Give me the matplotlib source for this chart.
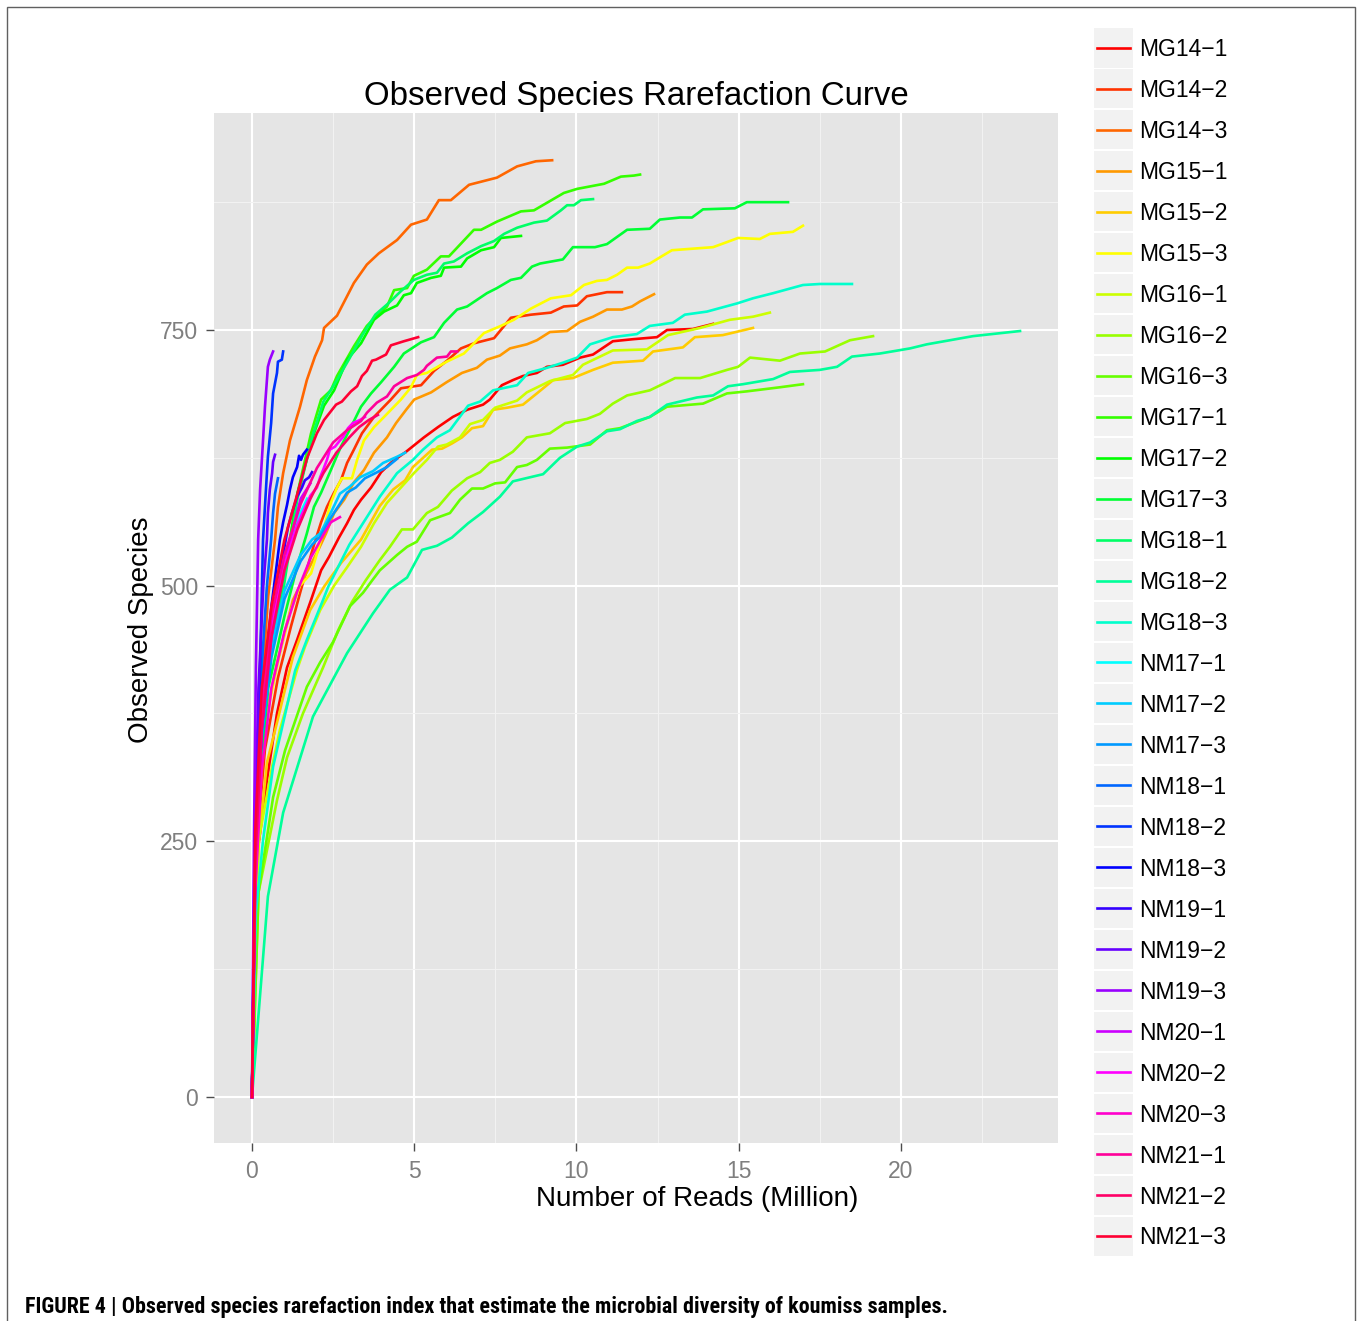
import colorsys
import matplotlib
matplotlib.use("Agg")
import matplotlib.pyplot as plt
from matplotlib.patches import Rectangle
from matplotlib.lines import Line2D
from matplotlib import font_manager

plt.rcParams['font.family'] = ['Liberation Sans', 'DejaVu Sans']

# ---------------- data (reads in millions, observed species) ----------------
series_names = ["MG14−1", "MG14−2", "MG14−3", "MG15−1", "MG15−2", "MG15−3",
                "MG16−1", "MG16−2", "MG16−3", "MG17−1", "MG17−2", "MG17−3",
                "MG18−1", "MG18−2", "MG18−3", "NM17−1", "NM17−2", "NM17−3",
                "NM18−1", "NM18−2", "NM18−3", "NM19−1", "NM19−2", "NM19−3",
                "NM20−1", "NM20−2", "NM20−3", "NM21−1", "NM21−2", "NM21−3"]

mg14_1_x = [0, 0.19, 0.46, 0.77, 1.08, 1.39, 1.82, 2.13, 2.37, 2.68, 2.93, 3.14, 3.36, 3.67, 3.98, 4.31, 4.75, 5.30, 5.73, 6.19, 6.63, 7.12, 7.33, 7.70, 8.04, 8.35, 8.78, 9.09, 9.58, 10.11, 10.51, 11.12, 11.74, 12.48, 12.79, 13.59, 14.21]
mg14_1_y = [0, 244, 310, 375, 420, 447, 486, 515, 528, 547, 561, 574, 584, 596, 611, 621, 631, 645, 655, 665, 672, 677, 682, 696, 701, 705, 708, 714, 716, 723, 726, 739, 741, 743, 750, 751, 756]

mg14_2_x = [0, 0.15, 0.4, 0.8, 1.2, 1.5, 1.91, 2.13, 2.31, 2.53, 2.74, 2.93, 3.14, 3.39, 3.76, 4.28, 4.59, 5.21, 5.61, 6.01, 6.44, 6.84, 7.46, 7.98, 8.60, 9.21, 9.61, 10.02, 10.32, 10.94, 11.40]
mg14_2_y = [0, 250, 340, 410, 460, 495, 540, 562, 577, 591, 603, 620, 633, 649, 665, 682, 693, 696, 710, 720, 732, 737, 742, 762, 765, 767, 773, 774, 783, 787, 787]

mg14_3_x = [0, 0.12, 0.3, 0.5, 0.71, 0.80, 0.96, 1.17, 1.48, 1.69, 1.94, 2.16, 2.22, 2.62, 3.14, 3.54, 3.91, 4.47, 4.90, 5.39, 5.76, 6.13, 6.69, 7.55, 8.17, 8.75, 9.25]
mg14_3_y = [0, 260, 400, 490, 545, 577, 610, 642, 675, 701, 724, 740, 752, 764, 796, 814, 825, 838, 853, 858, 877, 877, 892, 899, 910, 915, 916]

mg15_1_x = [0, 0.12, 0.31, 0.49, 0.77, 1.26, 1.57, 2.0, 2.28, 2.53, 2.84, 3.14, 3.45, 3.76, 4.16, 4.44, 4.75, 5.0, 5.52, 6.0, 6.47, 6.93, 7.24, 7.64, 7.95, 8.47, 8.78, 9.18, 9.71, 10.11, 10.51, 10.94, 11.40, 11.71, 11.96, 12.39]
mg15_1_y = [0, 230, 323, 381, 424, 486, 506, 532, 551, 571, 584, 601, 613, 630, 645, 659, 672, 682, 689, 699, 708, 713, 721, 725, 732, 736, 740, 748, 749, 758, 763, 770, 770, 773, 778, 785]

mg15_2_x = [0, 0.15, 0.46, 0.77, 0.96, 1.26, 1.79, 2.22, 2.74, 3.36, 3.94, 4.35, 4.72, 4.96, 5.55, 5.86, 6.16, 6.47, 6.78, 7.12, 7.43, 7.86, 8.35, 8.78, 9.28, 9.89, 10.51, 11.12, 12.05, 12.36, 13.28, 13.65, 14.51, 15.44]
mg15_2_y = [0, 230, 327, 366, 391, 430, 476, 499, 522, 545, 578, 594, 603, 616, 633, 634, 639, 645, 654, 656, 672, 674, 677, 688, 701, 703, 711, 718, 720, 729, 733, 743, 745, 752]

mg15_3_x = [0, 0.25, 0.40, 0.62, 0.86, 1.17, 1.48, 1.82, 2.13, 2.28, 2.43, 2.62, 2.77, 3.08, 3.24, 3.45, 3.76, 4.07, 4.59, 4.90, 5.08, 5.39, 6.0, 6.53, 6.84, 7.15, 7.67, 8.07, 8.60, 9.21, 9.83, 10.23, 10.63, 10.94, 11.25, 11.56, 11.90, 12.26, 12.57, 12.94, 14.21, 14.64, 14.98, 15.65, 15.96, 16.67, 16.98]
mg15_3_y = [0, 323, 366, 398, 434, 473, 500, 512, 545, 564, 581, 596, 605, 605, 623, 642, 655, 665, 682, 694, 706, 708, 719, 727, 737, 747, 754, 760, 771, 781, 784, 794, 798, 799, 804, 811, 811, 815, 821, 828, 831, 836, 840, 839, 844, 846, 852]

mg16_1_x = [0, 0.2, 0.62, 0.86, 1.39, 1.63, 2.10, 2.53, 2.93, 3.36, 3.76, 4.16, 4.59, 4.99, 5.39, 5.73, 6.0, 6.41, 6.72, 7.12, 7.49, 8.17, 8.47, 9.18, 9.89, 10.20, 11.12, 12.17, 12.82, 13.81, 14.73, 15.44, 15.96]
mg16_1_y = [0, 250, 323, 359, 418, 440, 476, 500, 518, 538, 561, 581, 596, 610, 623, 636, 638, 645, 658, 662, 674, 681, 689, 700, 706, 716, 730, 731, 745, 752, 760, 763, 767]

mg16_2_x = [0, 0.2, 0.77, 1.08, 1.57, 2.19, 2.65, 3.08, 3.5, 3.94, 4.25, 4.62, 4.96, 5.39, 5.73, 6.16, 6.63, 7.03, 7.33, 7.64, 8.04, 8.47, 9.18, 9.65, 10.32, 10.72, 11.12, 11.56, 12.26, 13.04, 13.81, 14.64, 14.98, 15.35, 16.27, 16.89, 17.66, 18.43, 19.14]
mg16_2_y = [0, 200, 290, 332, 375, 420, 456, 484, 505, 525, 538, 555, 555, 571, 577, 593, 605, 611, 620, 623, 631, 645, 649, 659, 663, 668, 678, 686, 691, 703, 703, 711, 714, 723, 720, 727, 729, 740, 744]

mg16_3_x = [0, 0.2, 0.65, 1.02, 1.69, 2.10, 2.50, 3.02, 3.42, 3.70, 3.94, 4.47, 4.78, 5.08, 5.49, 6.10, 6.41, 6.78, 7.12, 7.49, 7.80, 8.17, 8.47, 8.78, 9.18, 9.71, 10.42, 10.94, 11.34, 12.26, 12.79, 13.90, 14.64, 15.25, 16.27, 16.98]
mg16_3_y = [0, 200, 293, 339, 401, 425, 445, 480, 493, 505, 515, 530, 538, 543, 564, 571, 584, 595, 595, 600, 601, 616, 618, 623, 634, 635, 638, 652, 654, 665, 675, 678, 688, 690, 694, 697]

mg17_1_x = [0, 0.15, 0.46, 0.96, 1.4, 1.82, 2.13, 2.43, 2.62, 3.14, 3.54, 3.85, 4.16, 4.38, 4.78, 4.99, 5.39, 5.82, 6.07, 6.84, 7.06, 7.55, 8.29, 8.69, 9.61, 10.02, 10.85, 11.37, 11.77, 11.96]
mg17_1_y = [0, 330, 440, 506, 590, 649, 682, 691, 705, 734, 754, 764, 773, 789, 791, 803, 809, 822, 822, 848, 848, 856, 866, 867, 884, 888, 893, 900, 901, 902]

mg17_2_x = [0, 0.15, 0.46, 0.96, 1.4, 1.91, 2.22, 2.53, 2.93, 3.36, 3.76, 4.07, 4.47, 4.68, 4.90, 5.08, 5.52, 5.82, 5.92, 6.44, 6.63, 7.06, 7.46, 7.67, 8.29]
mg17_2_y = [0, 320, 430, 500, 590, 649, 676, 691, 721, 737, 760, 768, 774, 784, 786, 796, 801, 803, 811, 812, 820, 828, 831, 840, 842]

mg17_3_x = [0, 0.15, 0.5, 1.0, 1.4, 1.69, 1.91, 2.13, 2.43, 2.74, 3.05, 3.36, 3.67, 3.98, 4.38, 4.68, 5.21, 5.61, 5.92, 6.32, 6.63, 7.24, 7.55, 7.98, 8.29, 8.63, 8.88, 9.58, 9.89, 10.57, 10.94, 11.56, 12.26, 12.57, 13.19, 13.56, 13.90, 14.88, 15.25, 16.52]
mg17_3_y = [0, 280, 400, 470, 520, 551, 577, 591, 613, 636, 655, 675, 688, 699, 714, 727, 738, 743, 757, 770, 773, 786, 791, 799, 801, 812, 815, 819, 831, 831, 834, 848, 849, 858, 860, 860, 868, 869, 875, 875]

mg18_1_x = [0, 0.15, 0.46, 0.96, 1.4, 1.85, 2.2, 2.6, 3.0, 3.4, 3.8, 4.2, 4.59, 4.99, 5.39, 5.70, 5.92, 6.22, 6.63, 7.06, 7.46, 7.77, 8.17, 8.69, 9.09, 9.52, 9.71, 9.92, 10.14, 10.51]
mg18_1_y = [0, 310, 425, 495, 585, 645, 680, 700, 722, 745, 765, 776, 788, 799, 804, 806, 815, 817, 825, 832, 837, 844, 850, 855, 857, 867, 872, 872, 877, 878]

mg18_2_x = [0, 0.49, 0.96, 1.88, 2.93, 3.73, 4.25, 4.78, 5.24, 5.70, 6.16, 6.66, 7.12, 7.64, 8.04, 8.57, 8.97, 9.49, 10.02, 10.42, 10.94, 11.34, 11.86, 12.26, 12.79, 13.71, 14.21, 14.67, 15.13, 16.06, 16.58, 17.50, 18.03, 18.49, 19.35, 20.28, 20.80, 22.22, 23.67]
mg18_2_y = [0, 196, 278, 372, 434, 473, 496, 508, 535, 539, 547, 561, 572, 587, 602, 606, 609, 625, 636, 640, 651, 653, 661, 665, 677, 684, 686, 695, 697, 702, 709, 711, 714, 724, 727, 732, 736, 744, 749]

mg18_3_x = [0, 0.12, 0.34, 0.65, 1.33, 1.69, 2.19, 2.35, 3.0, 3.5, 3.94, 4.47, 4.96, 5.27, 5.70, 6.10, 6.66, 7.03, 7.43, 8.17, 8.51, 9.09, 9.58, 10.02, 10.42, 11.12, 11.86, 12.26, 12.97, 13.34, 14.02, 14.95, 15.44, 16.06, 16.98, 17.50, 18.49]
mg18_3_y = [0, 180, 251, 323, 417, 447, 486, 499, 540, 565, 587, 610, 623, 633, 645, 652, 676, 680, 691, 696, 708, 713, 718, 723, 736, 743, 746, 754, 757, 765, 768, 776, 781, 786, 794, 795, 795]

nm17_1_x = [0, 0.1, 0.3, 0.6, 1.0, 1.4, 1.7]
nm17_1_y = [0, 250, 380, 460, 520, 565, 585]

nm17_2_x = [0, 0.1, 0.3, 0.6, 1.0, 1.5, 1.85, 2.10, 2.25, 2.47, 2.71, 3.02, 3.33, 3.73, 4.04, 4.47, 4.72]
nm17_2_y = [0, 240, 360, 440, 495, 530, 545, 551, 560, 574, 590, 597, 606, 612, 620, 626, 630]

nm17_3_x = [0, 0.1, 0.3, 0.6, 1.0, 1.5, 1.85, 2.10, 2.4, 2.71, 2.93, 3.2, 3.48, 3.8, 4.16, 4.47]
nm17_3_y = [0, 230, 350, 430, 487, 524, 540, 548, 565, 580, 591, 596, 605, 610, 616, 624]

nm18_1_x = [0, 0.1, 0.3, 0.46, 0.59, 0.65, 0.71, 0.80]
nm18_1_y = [0, 250, 420, 500, 545, 571, 590, 605]

nm18_2_x = [0, 0.1, 0.25, 0.34, 0.43, 0.49, 0.59, 0.65, 0.77, 0.80, 0.92, 0.96]
nm18_2_y = [0, 250, 420, 545, 594, 626, 659, 688, 708, 719, 721, 729]

nm18_3_x = [0, 0.1, 0.3, 0.6, 0.86, 0.96, 1.08, 1.17, 1.26, 1.39, 1.45, 1.51, 1.57, 1.69]
nm18_3_y = [0, 230, 380, 480, 545, 562, 579, 594, 606, 616, 627, 623, 628, 633]

nm19_1_x = [0, 0.1, 0.3, 0.6, 0.9, 1.11, 1.23, 1.39, 1.54, 1.63, 1.76, 1.85]
nm19_1_y = [0, 220, 360, 460, 520, 557, 571, 587, 596, 603, 606, 611]

nm19_2_x = [0, 0.08, 0.2, 0.35, 0.46, 0.49, 0.55, 0.62, 0.65, 0.71]
nm19_2_y = [0, 250, 400, 500, 545, 571, 594, 610, 621, 628]

nm19_3_x = [0, 0.06, 0.12, 0.19, 0.25, 0.34, 0.40, 0.49, 0.55, 0.65]
nm19_3_y = [0, 250, 420, 545, 594, 642, 675, 714, 721, 729]

nm20_1_x = [0, 0.1, 0.3, 0.6, 1.0, 1.3, 1.5, 1.8]
nm20_1_y = [0, 230, 360, 450, 520, 560, 585, 600]

nm20_2_x = [0, 0.1, 0.3, 0.6, 1.0, 1.4, 1.8, 2.0, 2.10, 2.19, 2.31, 2.40, 2.56, 2.71, 2.80, 2.96, 3.11, 3.33, 3.48]
nm20_2_y = [0, 230, 370, 460, 520, 560, 588, 596, 606, 613, 623, 633, 636, 642, 645, 654, 659, 662, 665]

nm20_3_x = [0, 0.1, 0.3, 0.6, 1.0, 1.4, 1.82, 2.0, 2.22, 2.43, 2.71]
nm20_3_y = [0, 200, 320, 400, 455, 495, 528, 538, 551, 562, 567]

nm21_1_x = [0, 0.1, 0.3, 0.6, 1.0, 1.5, 2.0, 2.5, 2.93, 3.36, 3.54, 3.85, 4.16, 4.38, 4.78, 5.08, 5.30, 5.39, 5.70, 6.01, 6.13, 6.32]
nm21_1_y = [0, 240, 380, 470, 530, 580, 615, 640, 652, 661, 669, 679, 685, 695, 703, 706, 711, 715, 723, 724, 729, 729]

nm21_2_x = [0, 0.1, 0.3, 0.6, 1.0, 1.4, 1.8, 2.2, 2.6, 3.0, 3.3, 3.6, 3.88]
nm21_2_y = [0, 230, 360, 450, 515, 555, 585, 610, 630, 645, 655, 662, 667]

nm21_3_x = [0, 0.1, 0.3, 0.6, 1.0, 1.4, 1.7, 2.0, 2.22, 2.59, 2.77, 3.05, 3.24, 3.39, 3.54, 3.70, 3.82, 4.13, 4.28, 4.68, 5.12]
nm21_3_y = [0, 260, 400, 480, 545, 590, 625, 649, 662, 677, 680, 690, 695, 705, 710, 720, 721, 726, 735, 739, 743]

series_x = [mg14_1_x, mg14_2_x, mg14_3_x, mg15_1_x, mg15_2_x, mg15_3_x,
            mg16_1_x, mg16_2_x, mg16_3_x, mg17_1_x, mg17_2_x, mg17_3_x,
            mg18_1_x, mg18_2_x, mg18_3_x, nm17_1_x, nm17_2_x, nm17_3_x,
            nm18_1_x, nm18_2_x, nm18_3_x, nm19_1_x, nm19_2_x, nm19_3_x,
            nm20_1_x, nm20_2_x, nm20_3_x, nm21_1_x, nm21_2_x, nm21_3_x]
series_y = [mg14_1_y, mg14_2_y, mg14_3_y, mg15_1_y, mg15_2_y, mg15_3_y,
            mg16_1_y, mg16_2_y, mg16_3_y, mg17_1_y, mg17_2_y, mg17_3_y,
            mg18_1_y, mg18_2_y, mg18_3_y, nm17_1_y, nm17_2_y, nm17_3_y,
            nm18_1_y, nm18_2_y, nm18_3_y, nm19_1_y, nm19_2_y, nm19_3_y,
            nm20_1_y, nm20_2_y, nm20_3_y, nm21_1_y, nm21_2_y, nm21_3_y]

x_ticks = [0, 5, 10, 15, 20]
y_ticks = [0, 250, 500, 750]

title_text = "Observed Species Rarefaction Curve"
xlabel_text = "Number of Reads (Million)"
ylabel_text = "Observed Species"
caption_text = ("FIGURE 4 | Observed species rarefaction index that estimate the "
                "microbial diversity of koumiss samples.")

# ---------------- figure ----------------
W, H = 1360, 1321
fig = plt.figure(figsize=(W / 100, H / 100), dpi=100)
fig.patch.set_facecolor("white")


def fx(px):
    return px / W


def fy(py):
    return 1 - py / H


n = len(series_names)
colors = [colorsys.hsv_to_rgb(i / n, 1, 1) for i in range(n)]

# outer frame
fig.add_artist(Rectangle((fx(7), fy(1340)), fx(1355) - fx(7), fy(7) - fy(1340),
                         transform=fig.transFigure, facecolor="none",
                         edgecolor="#606060", lw=1.0))

ax = fig.add_axes([fx(214), fy(1143), fx(1058) - fx(214), fy(113) - fy(1143)])
ax.set_facecolor("#E5E5E5")
for s in ax.spines.values():
    s.set_visible(False)
ax.set_xlim(-1.171, 24.84)
ax.set_ylim(-45, 962.2)
ax.set_xticks(x_ticks)
ax.set_yticks(y_ticks)
ax.set_xticks([2.5, 7.5, 12.5, 17.5, 22.5], minor=True)
ax.set_yticks([125, 375, 625, 875], minor=True)
ax.set_xticklabels([str(v) for v in x_ticks])
ax.set_yticklabels([str(v) for v in y_ticks])
ax.grid(which="major", color="white", lw=1.5)
ax.grid(which="minor", color="#F2F2F2", lw=0.8)
ax.set_axisbelow(True)
ax.tick_params(which="major", length=6, width=1.0, color="#4D4D4D",
               labelsize=16.5, labelcolor="#7F7F7F")
ax.tick_params(axis="x", pad=6)
ax.tick_params(axis="y", pad=5.5)
ax.tick_params(which="minor", length=0)

for i in range(n):
    ax.plot(series_x[i], series_y[i], color=colors[i], lw=1.9,
            solid_joinstyle="round", zorder=3)

# titles
fig.text(fx(636), fy(96), title_text, ha="center", va="center", fontsize=23.8)
fig.text(fx(697), fy(1199), xlabel_text, ha="center", va="center", fontsize=20)
fig.text(fx(141), fy(630), ylabel_text, ha="center", va="center",
         fontsize=20, rotation=90)

# legend (drawn manually, ggplot style)
spacing = (1236 - 48) / (n - 1)
for i, name in enumerate(series_names):
    cy = 48 + i * spacing
    fig.add_artist(Rectangle((fx(1094), fy(cy + 19.5)), fx(1133) - fx(1094),
                             fy(cy - 19.5) - fy(cy + 19.5),
                             transform=fig.transFigure, facecolor="#F2F2F2",
                             edgecolor="none"))
    fig.add_artist(Line2D([fx(1097), fx(1130)], [fy(cy), fy(cy)],
                          transform=fig.transFigure, color=colors[i], lw=1.9))
    fig.text(fx(1139), fy(cy + 2), name, ha="left", va="center", fontsize=16.5)

# caption: condensed bold face if one is installed, fitted to its width
installed = {f.name for f in font_manager.fontManager.ttflist}
cap_family = ["Liberation Sans"]
for cand in ["Liberation Sans Narrow", "Roboto Condensed", "DejaVu Sans Condensed",
             "Open Sans Condensed", "Noto Sans Condensed"]:
    if cand in installed:
        cap_family = [cand]
        break
cap = fig.text(fx(25), fy(1307), caption_text, ha="left", va="center",
               fontsize=14, fontweight="bold",
               family=cap_family + ["Liberation Sans", "DejaVu Sans"])
if "Condensed" in cap_family[0] and cap_family[0] != "Liberation Sans Narrow":
    cap.set_fontstretch("condensed")
fig.canvas.draw()
r = fig.canvas.get_renderer()
w = cap.get_window_extent(r).width
cap.set_fontsize(14 * 925 / w)

fig.savefig("out.png", dpi=100, facecolor="white")
